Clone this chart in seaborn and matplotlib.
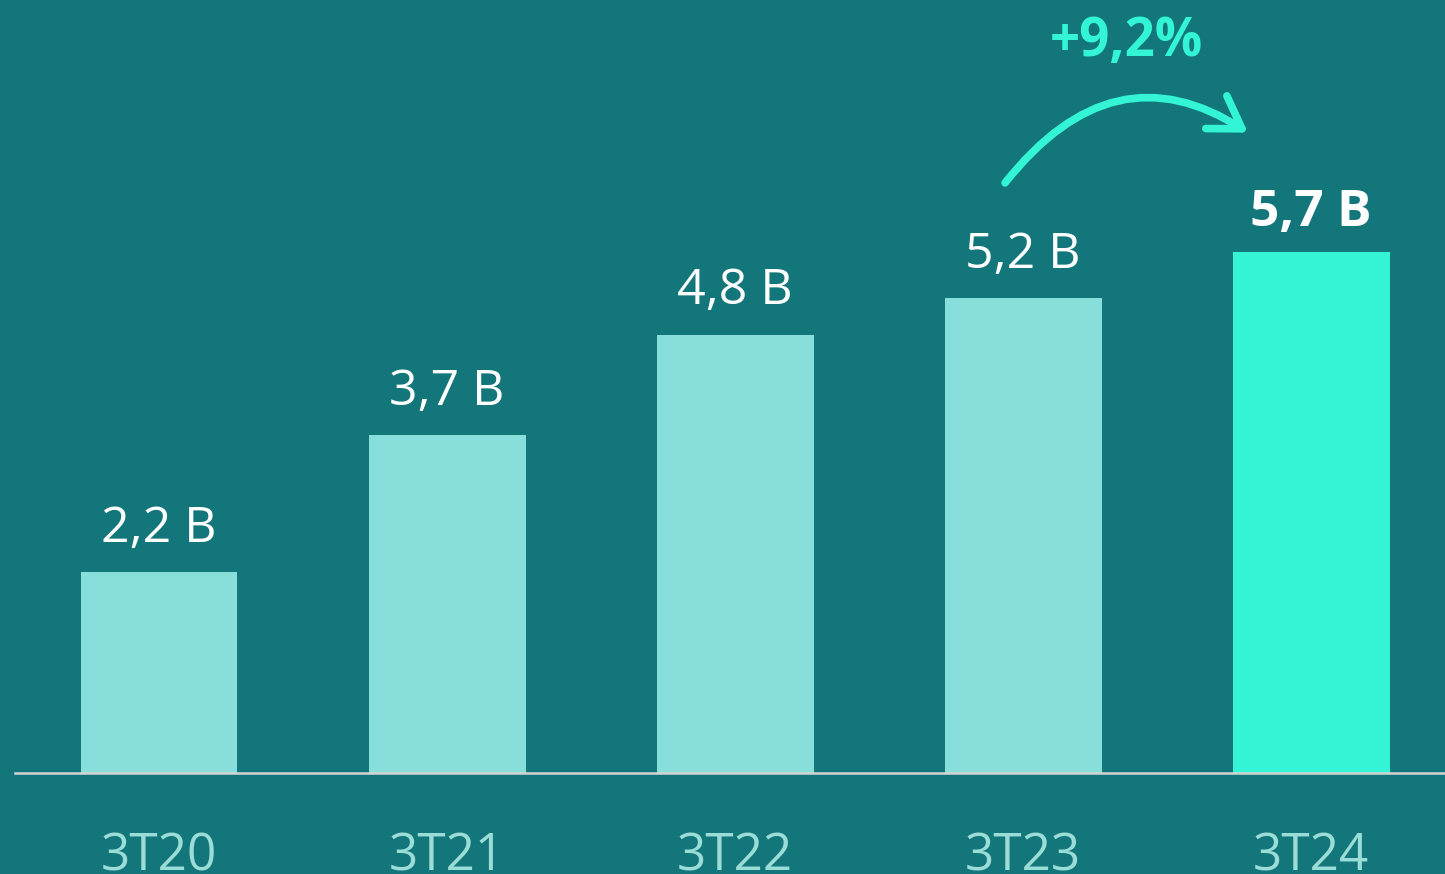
import matplotlib

matplotlib.use('Agg')
import matplotlib.pyplot as plt
import seaborn as sns
from matplotlib.patches import FancyArrowPatch
from matplotlib.path import Path

periods = ['3T20', '3T21', '3T22', '3T23', '3T24']
values = [2.2, 3.7, 4.8, 5.2, 5.7]
value_labels = ['2,2 B', '3,7 B', '4,8 B', '5,2 B', '5,7 B']
growth_label = '+9,2%'

bg = '#13767A'
bar_col = '#88DEDB'
hi_col = '#33F5D6'

sns.set_theme(style='white')
plt.rcParams['font.family'] = ['Open Sans', 'DejaVu Sans']

fig = plt.figure(figsize=(14.45, 8.74), dpi=100)
fig.patch.set_facecolor(bg)
ax = fig.add_axes([15 / 1445, 101 / 874, 1430 / 1445, 773 / 874])
ax.set_facecolor(bg)

colors = [bar_col] * (len(periods) - 1) + [hi_col]
sns.barplot(x=periods, y=values, hue=periods, palette=colors, legend=False,
            width=0.545, saturation=1, linewidth=0, ax=ax)

ax.set_xlim(-0.5, 4.465)
ax.set_ylim(0, 773 / 91.35)
ax.set_yticks([])
ax.set_xlabel('')
ax.set_ylabel('')
for s in ['top', 'right', 'left']:
    ax.spines[s].set_visible(False)
ax.spines['bottom'].set_color('#D4D4D4')
ax.spines['bottom'].set_linewidth(1.8)
ax.spines['bottom'].set_zorder(5)
ax.tick_params(axis='x', length=0, pad=42, labelsize=37, labelcolor='#9ADCD6')

# value labels
for i, (v, lab) in enumerate(zip(values, value_labels)):
    last = i == len(values) - 1
    ax.annotate(lab, (i, v), xytext=(0, 10 if last else 13), textcoords='offset points',
                ha='center', va='bottom', color='white', fontsize=37 if last else 36,
                fontweight='bold' if last else 'normal')

# growth arrow (quadratic curve from above 3T23 towards 3T24)
curve = Path([(2.9375, 6.46), (3.314, 7.96), (3.781, 7.01)],
             [Path.MOVETO, Path.CURVE3, Path.CURVE3])
arrow = FancyArrowPatch(path=curve,
                        arrowstyle='->,head_length=1.1,head_width=0.7',
                        color=hi_col, lw=5.5, mutation_scale=20, zorder=6)
ax.add_patch(arrow)
ax.text(3.36, 8.0, growth_label, ha='center', va='center', color=hi_col,
        fontsize=38, fontweight='bold')

fig.savefig('out.png', dpi=100, facecolor=bg)
